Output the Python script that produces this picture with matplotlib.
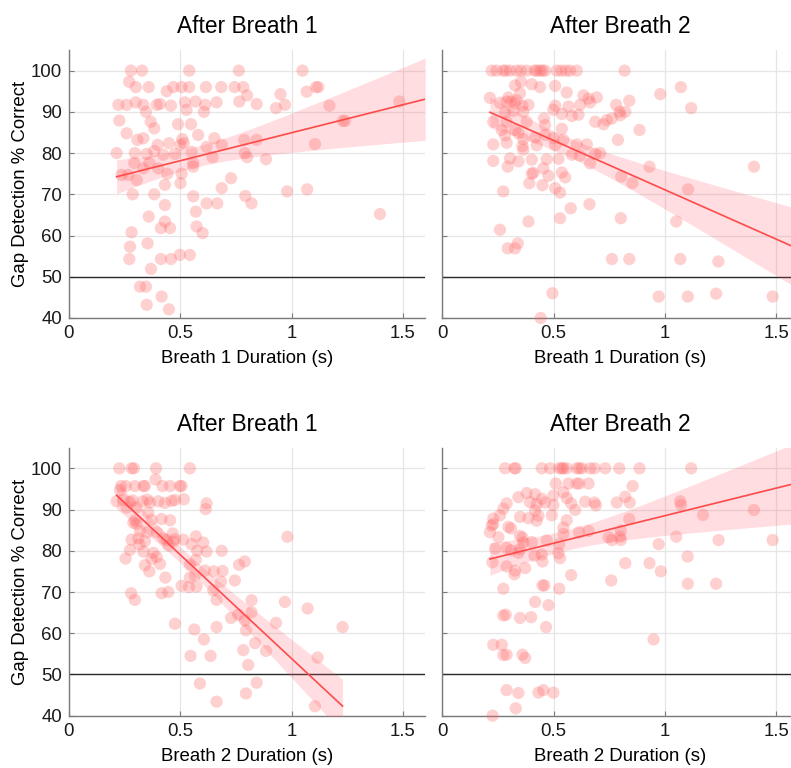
import numpy as np
import matplotlib
matplotlib.use("Agg")
import matplotlib.pyplot as plt

# ---------------- data ----------------
# Panel: top-left  (Breath 1 duration -> After Breath 1)
tl_x = [0.278,0.328,0.54,0.763,0.27,0.30,0.358,0.469,0.506,0.54,0.615,0.684,0.744,0.783,
        0.439,0.80,0.222,0.259,0.30,0.334,0.394,0.409,0.458,0.521,0.569,0.612,0.663,0.765,0.843,
        0.528,0.346,0.606,0.226,0.367,0.383,0.49,0.548,0.259,0.307,0.334,0.58,0.509,0.653,0.787,0.843,
        0.398,0.449,0.50,0.516,0.618,0.686,0.214,0.296,0.349,0.383,0.424,0.476,0.551,0.79,
        0.80,0.645,0.293,0.361,0.558,0.558,0.401,0.334,0.442,0.506,0.236,0.266,0.304,0.728,
        0.501,0.431,0.686,0.286,0.383,0.558,0.618,0.666,0.792,0.82,0.431,0.57,0.358,
        0.431,0.573,0.413,0.454,0.60,0.281,0.274,0.353,0.498,0.543,0.271,0.413,0.458,0.368,
        0.319,0.346,0.416,0.349,0.449,
        1.049,1.068,1.11,1.12,0.93,0.97,0.95,1.17,1.23,1.24,1.484,0.885,1.105,0.98,1.07,1.397]
tl_y = [100,100,100,100,97.3,96,96,96,96,96,96,96,96,96,
        95,94,91.7,91.7,92.3,91.7,91.7,91.9,91.5,92.3,92.5,91.7,92.3,92.5,91.9,
        90.5,90,90,87.9,87.6,86,87,87,84.8,83.2,83.6,84.4,83.4,83.6,83.2,83.2,
        82,82.4,82,82.4,81.5,82,80,80,79.8,80.5,79.6,79.8,80.3,80,
        79,79,77.6,77.6,77.6,76.7,76.3,76.3,75,75,74.7,74.7,73.5,73.9,
        72.7,72.3,71.5,70,70,69.5,67.8,67.8,69.6,67.8,67.4,65.8,64.6,
        63.4,62.2,61.8,61.8,60.6,60.8,57.3,58.1,55.3,55.3,54.3,54.3,54.3,51.9,
        47.6,47.6,45.2,43.2,42.1,
        100,94.9,96,96,90.9,91.7,94.3,91.5,87.8,87.8,92.5,78.5,82.2,70.7,71.2,65.2]

# Panel: top-right (Breath 1 duration -> After Breath 2)
tr_x = [0.222,0.244,0.274,0.285,0.304,0.334,0.354,0.379,0.414,0.424,0.439,0.45,0.462,0.514,0.534,0.555,0.574,0.604,
        0.327,0.354,0.402,0.439,0.507,0.559,
        0.214,0.297,0.334,0.634,0.657,0.694,0.349,
        0.259,0.289,0.309,0.327,0.36,0.387,0.507,0.567,0.619,0.664,
        0.282,0.319,0.364,0.499,0.537,0.582,0.612,
        0.457,0.229,0.289,0.379,0.687,0.462,0.537,0.267,0.327,
        0.282,0.342,0.364,0.417,0.462,0.499,0.544,
        0.229,0.289,0.36,0.424,0.507,0.604,0.649,
        0.364,0.582,0.619,0.687,
        0.229,0.304,0.342,0.402,0.469,0.522,0.664,0.294,0.454,
        0.402,0.409,0.537,0.552,0.477,
        0.391,0.45,0.507,0.274,0.529,
        0.661,0.577,0.529,0.387,0.259,0.339,0.294,0.327,
        0.762,0.495,0.442,
        0.739,0.762,0.724,0.709,
        0.819,1.072,0.979,0.84,0.781,1.118,0.796,0.822,0.8,0.886,0.789,0.931,1.4,0.804,0.854,
        1.104,0.802,1.051,0.84,1.069,1.24,0.972,1.103,1.23,1.484]
tr_y = [100,100,100,100,100,100,100,100,100,100,100,100,100,100,100,100,100,100,
        96.4,97.3,96.7,96,96.3,94.7,
        93.4,93.5,92.8,94,93.2,93.5,94.5,
        92.2,92.5,92.5,92,91.5,91.7,91.5,91.3,91.7,92.3,
        89.9,90.2,90,90.5,89.5,89,89.3,
        88.4,87.6,87.6,87.6,87.6,86.8,85.9,85.6,85.6,
        84.3,84.8,83.4,83.8,84.4,83.6,83.2,
        82.1,82.5,81.7,81.9,81.9,82.1,82.1,
        80.8,79.6,79.4,79.8,
        78.1,78.7,78,78.4,78.5,78.6,77.5,76.7,76.3,
        75,75.2,75.3,74.1,74.5,
        72.7,72.2,71.5,70.7,70.4,
        67.6,66.6,64.2,63.4,61.4,58.1,56.9,56.9,
        54.3,46,40,
        88,88.4,87,80,
        100,96,94.3,92.7,91.7,90.9,90,90,89.2,85.6,83.2,76.7,76.7,74.3,72.7,
        71.2,64.2,63.4,54.3,54.3,53.7,45.2,45.2,45.9,45.2]

# Panel: bottom-left (Breath 2 duration -> After Breath 1)
bl_x = [0.226,0.281,0.292,0.391,0.543,0.389,
        0.234,0.256,0.296,0.334,0.341,0.42,0.454,0.498,0.506,0.229,
        0.214,0.244,0.274,0.286,0.331,0.352,0.364,0.401,0.431,0.461,0.476,0.516,
        0.618,0.614,0.259,0.304,0.356,
        0.296,0.289,0.371,0.416,0.454,0.304,
        0.319,0.352,0.394,0.466,
        0.281,0.311,0.341,0.424,0.439,0.469,0.476,0.513,0.57,0.603,
        0.316,0.446,0.551,
        0.274,0.334,0.379,0.576,0.618,0.686,
        0.254,0.394,0.371,
        0.341,0.409,0.543,0.57,
        0.361,0.611,0.651,0.69,0.764,0.79,
        0.433,0.543,0.566,0.683,0.745,
        0.506,0.539,0.573,0.648,
        0.279,0.416,0.446,0.296,0.663,
        0.82,0.82,0.76,0.728,0.79,
        0.476,0.663,0.563,0.795,0.606,0.836,
        0.783,0.546,0.636,0.805,0.588,0.843,0.795,0.663,
        0.981,0.97,1.072,0.93,1.229,0.885,1.117,1.105]
bl_y = [100,100,100,100,100,97.3,
        95.7,95.7,95.7,95.7,95.7,95.7,95.7,95.7,95.7,94.7,
        92,92.3,91.8,92.2,92,92.4,91.7,92,91.6,92.1,92.3,92.5,
        91.5,90.1,90.5,90.5,89.3,
        87.4,86.8,87.5,87.7,87.4,86.5,
        84.8,84.5,84.5,84.2,
        82.7,83,82.3,83,82.6,82.2,82.8,82.7,83.5,82,
        81.5,81.3,81.6,
        80.2,79.8,79.5,80,79.8,80,
        78.1,78.5,78,
        76.5,76.8,76.6,77.8,
        75,75.2,75,75.1,76.6,77.4,
        73.5,73.5,74,72.5,72.8,
        71.5,71.2,71.3,70.4,
        69.7,69.7,70,68.1,68.1,
        68,65.1,64.5,63.7,63.1,
        62.3,61.5,60.9,60.7,58.5,57.6,
        55.9,54.5,54.5,52.3,47.8,48,45.4,43.4,
        83.4,67.6,66,62.5,61.5,55.7,54.1,42.3]

# Panel: bottom-right (Breath 2 duration -> After Breath 2)
br_x = [0.282,0.324,0.33,0.447,0.484,0.525,0.537,0.544,0.559,0.604,0.615,0.627,0.664,0.684,0.732,
        0.51,0.567,0.604,0.615,0.657,
        0.379,0.417,0.544,0.342,0.447,0.499,0.559,
        0.289,0.394,0.424,0.462,0.499,0.579,0.642,0.684,0.69,
        0.274,0.417,0.597,
        0.259,0.229,0.349,0.387,0.424,0.432,0.492,0.559,
        0.229,0.222,0.309,0.297,0.544,
        0.214,0.544,0.614,0.657,0.747,
        0.252,0.349,0.36,
        0.364,0.402,0.469,0.525,
        0.237,0.289,0.309,0.349,
        0.342,0.414,0.447,0.522,0.529,
        0.45,0.225,0.289,0.327,0.372,
        0.324,0.579,0.759,
        0.45,0.459,0.274,0.525,
        0.417,0.477,
        0.274,0.285,0.349,0.399,0.466,
        0.229,0.267,0.274,0.289,0.36,0.372,
        0.289,0.342,0.432,0.454,0.499,
        0.33,0.226,0.762,
        0.795,0.886,1.118,0.855,0.822,0.842,0.784,1.069,1.072,1.4,1.171,0.84,0.802,0.799,0.802,
        1.051,1.241,1.484,0.972,1.102,0.822,0.931,0.982,1.103,1.23,0.949]
br_y = [100,100,100,100,100,100,100,100,100,100,100,100,100,100,100,
        96.3,96.3,96.3,96.3,96.3,
        94,93.7,94.2,93,92.6,93.4,92.8,
        91.5,91.8,91.3,91.7,91.1,91.5,91.9,91.7,91,
        90.2,89.8,89.9,
        88.6,87.8,88.2,87.9,87.3,88.5,88.6,87.4,
        86.5,86.1,85.4,85.8,85.6,
        84.5,84.1,84.5,84.8,83.3,
        83.3,83.6,83.2,
        82,82.1,82.5,81.6,
        80.5,80.7,80.1,80.4,
        79.5,78.8,79.1,79.4,78.2,
        77.4,77.2,76.2,75.2,75.8,
        74.3,74.1,72.8,
        71.6,71.6,70.8,70.8,
        67.6,66.8,
        64.3,64.5,63.7,63.9,61.5,
        57.2,57.2,54.7,54.8,54.8,54,
        46.2,45.5,45.6,46.2,45.6,
        41.8,40,82.6,
        100,100,100,95.7,93.1,91.7,91.7,92,91.1,89.9,88.7,87.7,84.9,83.4,82.6,
        83.4,82.6,82.6,81.6,78.6,77,77,75,72,72,58.5]

# Fitted trend lines as shown in the chart (intercept, slope); the fit in the
# source also used points outside the visible range, so they are read directly.
fit_intercept = [71.36, 95.02, 104.2, 75.14]
fit_slope = [13.57, -23.93, -50.35, 13.37]

titles = ["After Breath 1", "After Breath 2", "After Breath 1", "After Breath 2"]
xlabels = ["Breath 1 Duration (s)", "Breath 1 Duration (s)",
           "Breath 2 Duration (s)", "Breath 2 Duration (s)"]
ylabel = "Gap Detection % Correct"
xticks = [0, 0.5, 1, 1.5]
xticklabels = ["0", "0.5", "1", "1.5"]
yticks = [40, 50, 60, 70, 80, 90, 100]
chance_level = 50

panels = [(tl_x, tl_y), (tr_x, tr_y), (bl_x, bl_y), (br_x, br_y)]
# fit line extends to the axis edge except in bottom-left panel (ends at data max)
fit_to_edge = [True, True, False, True]

# ---------------- style ----------------
plt.rcParams['font.family'] = ['Liberation Sans', 'DejaVu Sans']
W, H = 791, 768
fig = plt.figure(figsize=(W / 100, H / 100), dpi=100)

XMAX = 1.6
YLIM = (40, 105)
px_per_x = 222.6
ax_w = XMAX * px_per_x / W
lefts = [69 / W, 442.3 / W]
bottoms = [1 - 318 / H, 1 - 715.7 / H]
ax_h = (318 - 50) / H

dot_color = (1.0, 0.40, 0.40)
line_color = "#ff4a4a"
spine_color = "#7a7a7a"
grid_color = "#e6e6e6"
T_CRIT = 1.98

for i, (xs, ys) in enumerate(panels):
    r, c = divmod(i, 2)
    ax = fig.add_axes([lefts[c], bottoms[r], ax_w, ax_h])
    xs = np.asarray(xs, float)
    ys = np.asarray(ys, float)

    ax.set_xlim(0, XMAX)
    ax.set_ylim(*YLIM)
    ax.set_xticks(xticks)
    ax.set_xticklabels(xticklabels)
    ax.set_yticks(yticks)
    if c == 1:
        ax.set_yticklabels([])
    else:
        ax.set_ylabel(ylabel, fontsize=13.4, labelpad=1)

    ax.grid(True, color=grid_color, linewidth=0.9, zorder=0)
    ax.set_axisbelow(True)
    for s in ["top", "right"]:
        ax.spines[s].set_visible(False)
    for s in ["left", "bottom"]:
        ax.spines[s].set_color(spine_color)
        ax.spines[s].set_linewidth(1.0)
    ax.tick_params(direction="in", length=3.5, width=0.8, color=spine_color,
                   labelsize=13.4, pad=5, labelcolor="#1a1a1a")

    ax.axhline(chance_level, color="#2a2a2a", linewidth=1.0, zorder=2)

    # trend line and 95% confidence band (band width from the scatter residuals)
    a, b = fit_intercept[i], fit_slope[i]
    n = len(xs)
    resid = ys - (a + b * xs)
    s = np.sqrt(np.sum((resid - resid.mean()) ** 2) / (n - 2))
    xm = xs.mean()
    sxx = np.sum((xs - xm) ** 2)
    x_end = XMAX if fit_to_edge[i] else xs.max()
    xx = np.linspace(xs.min(), x_end, 200)
    yy = a + b * xx
    se = s * np.sqrt(1 / n + (xx - xm) ** 2 / sxx)
    ax.fill_between(xx, yy - T_CRIT * se, yy + T_CRIT * se, color=(1.0, 0.35, 0.4),
                    alpha=0.2, linewidth=0, zorder=3)
    ax.scatter(xs, ys, s=78, color=dot_color, alpha=0.3, edgecolors="none",
               zorder=4, clip_on=False)
    ax.plot(xx, yy, color=line_color, linewidth=1.2, zorder=5)

    ax.set_title(titles[i], fontsize=16.4, pad=12)
    ax.set_xlabel(xlabels[i], fontsize=13.4, labelpad=6)

fig.savefig("out.png", dpi=100)
